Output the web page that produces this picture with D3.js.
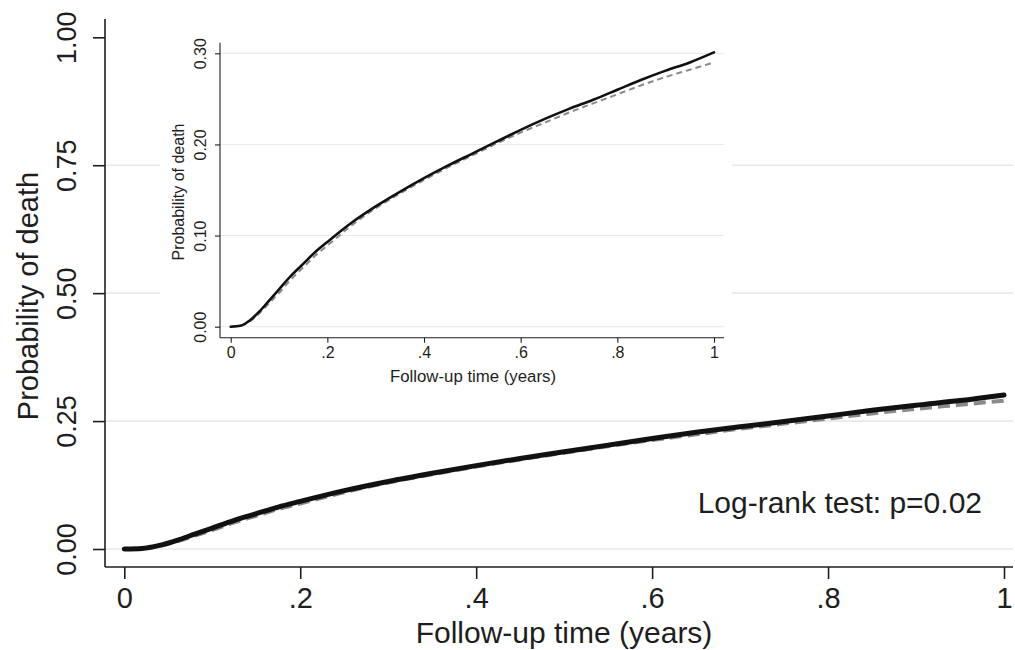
<!DOCTYPE html>
<html>
<head>
<meta charset="utf-8">
<script src="https://d3js.org/d3.v7.min.js"></script>
<style>
  body { margin: 0; background: #fff; }
  svg { display: block; font-family: "Liberation Sans", Arial, sans-serif; }
</style>
</head>
<body>
<svg id="chart" width="1015" height="650"></svg>
<script>
// follow-up time (years) and cumulative probability of death for the two groups
var times   = [0, 0.02, 0.04, 0.06, 0.08, 0.1, 0.125, 0.15, 0.175, 0.2, 0.25, 0.3, 0.35, 0.4, 0.45, 0.5, 0.55, 0.6, 0.65, 0.7, 0.75, 0.8, 0.85, 0.9, 0.95, 1.0];
var solidY  = [0, 0.001, 0.007, 0.017, 0.029, 0.041, 0.056, 0.069, 0.082, 0.093, 0.114, 0.132, 0.148, 0.163, 0.177, 0.190, 0.203, 0.216, 0.228, 0.239, 0.249, 0.260, 0.271, 0.281, 0.290, 0.301];
var dashedY = [0, 0.001, 0.006, 0.015, 0.026, 0.037, 0.052, 0.065, 0.078, 0.089, 0.111, 0.130, 0.146, 0.161, 0.175, 0.188, 0.201, 0.213, 0.224, 0.235, 0.245, 0.255, 0.265, 0.274, 0.282, 0.290];

var xTicks = [0, 0.2, 0.4, 0.6, 0.8, 1];
var mainYTicks = [0, 0.25, 0.5, 0.75, 1];
var mainGrid = [0, 0.25, 0.5, 0.75];
var insetYTicks = [0, 0.1, 0.2, 0.3];

var xTitle = "Follow-up time (years)";
var yTitle = "Probability of death";
var note = "Log-rank test: p=0.02";

var svg = d3.select("#chart");
var ink = "#1e1e1e";

var xFmt = function (d) { return d === 0 ? "0" : d === 1 ? "1" : d3.format(".1f")(d).replace(/^0/, ""); };
var yFmt = d3.format(".2f");

var seriesOf = function (vals) {
  return times.map(function (t, i) { return [t, vals[i]]; });
};

// draws one Stata-like panel
function panel(g, o) {
  var x = d3.scaleLinear().domain([0, 1]).range([o.x0, o.x1]);
  var y = d3.scaleLinear().domain([0, o.yMax]).range([o.y0, o.y1]);

  // horizontal grid
  g.selectAll("line.grid")
    .data(o.grid)
    .enter()
    .append("line")
    .attr("class", "grid")
    .attr("x1", o.left)
    .attr("x2", o.right)
    .attr("y1", y)
    .attr("y2", y)
    .attr("stroke", "#e9e9e9")
    .attr("stroke-width", o.gridW);

  // axis lines along the plot region
  g.append("line")
    .attr("x1", o.left).attr("x2", o.left)
    .attr("y1", o.top).attr("y2", o.bottom)
    .attr("stroke", ink).attr("stroke-width", o.axisW);
  g.append("line")
    .attr("x1", o.left).attr("x2", o.right)
    .attr("y1", o.bottom).attr("y2", o.bottom)
    .attr("stroke", ink).attr("stroke-width", o.axisW);

  var yAxis = g.append("g")
    .attr("transform", "translate(" + o.left + ",0)")
    .call(d3.axisLeft(y).tickValues(o.yTicks).tickFormat(yFmt).tickSize(o.tick));
  yAxis.select(".domain").remove();
  yAxis.selectAll(".tick line").attr("stroke", ink).attr("stroke-width", o.axisW);
  yAxis.selectAll(".tick text")
    .attr("x", 0)
    .attr("y", -o.yLab)
    .attr("dy", "0.35em")
    .attr("transform", "rotate(-90)")
    .attr("text-anchor", "middle")
    .attr("fill", ink)
    .style("font-size", o.yTickFont + "px")
    .style("font-family", "Liberation Sans, Arial, sans-serif");

  var xAxis = g.append("g")
    .attr("transform", "translate(0," + o.bottom + ")")
    .call(d3.axisBottom(x).tickValues(xTicks).tickFormat(xFmt).tickSize(o.tick));
  xAxis.select(".domain").remove();
  xAxis.selectAll(".tick line").attr("stroke", ink).attr("stroke-width", o.axisW);
  xAxis.selectAll(".tick text")
    .attr("y", o.xLab)
    .attr("dy", "0.71em")
    .attr("fill", ink)
    .style("font-size", o.xTickFont + "px")
    .style("font-family", "Liberation Sans, Arial, sans-serif");

  // titles
  g.append("text")
    .attr("x", o.xTitleX)
    .attr("y", o.xTitleY)
    .attr("text-anchor", "middle")
    .attr("fill", ink)
    .style("font-size", o.xTitleFont + "px")
    .text(xTitle);
  g.append("text")
    .attr("transform", "translate(" + o.yTitleX + "," + o.yTitleY + ") rotate(-90)")
    .attr("text-anchor", "middle")
    .attr("fill", ink)
    .style("font-size", o.yTitleFont + "px")
    .text(yTitle);

  var line = d3.line()
    .x(function (d) { return x(d[0]); })
    .y(function (d) { return y(d[1]); })
    .curve(d3.curveMonotoneX);

  g.append("path")
    .datum(seriesOf(dashedY))
    .attr("d", line)
    .attr("fill", "none")
    .attr("stroke", "#8a8a8a")
    .attr("stroke-width", o.dashW)
    .attr("stroke-dasharray", o.dash);
  g.append("path")
    .datum(seriesOf(solidY))
    .attr("d", line)
    .attr("fill", "none")
    .attr("stroke", "#111")
    .attr("stroke-width", o.solidW)
    .attr("stroke-linecap", "round");

  return { x: x, y: y };
}

// main graph
var main = svg.append("g");
panel(main, {
  left: 105, right: 1013, top: 19, bottom: 567,
  x0: 124.3, x1: 1004, y0: 549, y1: 37.3, yMax: 1,
  yTicks: mainYTicks, grid: mainGrid,
  tick: 12, yLab: 38, xLab: 20, yTickFont: 27, xTickFont: 29,
  xTitleFont: 30, yTitleFont: 29,
  xTitleX: 564, xTitleY: 643, yTitleX: 38, yTitleY: 296,
  axisW: 1.6, gridW: 1.6, solidW: 5, dashW: 4, dash: "12,6"
});

main.append("text")
  .attr("x", 982)
  .attr("y", 513)
  .attr("text-anchor", "end")
  .attr("fill", ink)
  .style("font-size", "30px")
  .text(note);

// inset graph on a white card
var inset = svg.append("g");
inset.append("rect")
  .attr("x", 160).attr("y", 24)
  .attr("width", 572).attr("height", 368)
  .attr("fill", "#fff");
panel(inset, {
  left: 220, right: 724, top: 42.7, bottom: 337.7,
  x0: 230.7, x1: 714, y0: 326.7, y1: 53.3, yMax: 0.3,
  yTicks: insetYTicks, grid: insetYTicks,
  tick: 5, yLab: 20, xLab: 9, yTickFont: 16, xTickFont: 16,
  xTitleFont: 16.8, yTitleFont: 16,
  xTitleX: 473, xTitleY: 382, yTitleX: 184, yTitleY: 192,
  axisW: 1.1, gridW: 1, solidW: 2.6, dashW: 2, dash: "6,4"
});
</script>
</body>
</html>
